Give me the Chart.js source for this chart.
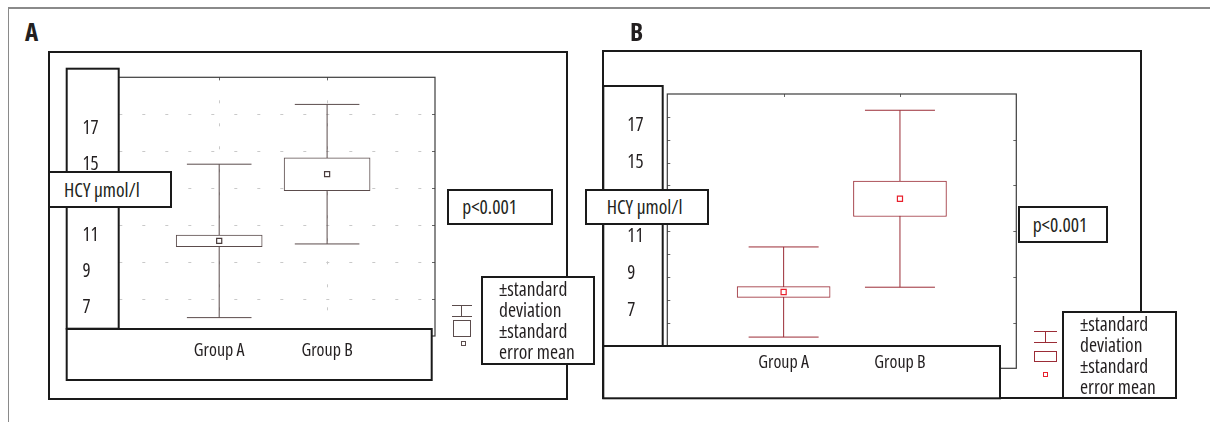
<!DOCTYPE html>
<html><head><meta charset="utf-8">
<script src="https://cdn.jsdelivr.net/npm/chart.js@4.4.1/dist/chart.umd.min.js"></script>
<style>
html,body{margin:0;padding:0;background:#fff;}
body{width:1210px;height:422px;position:relative;overflow:hidden;font-family:"Open Sans",sans-serif;font-stretch:condensed;color:#231f20;}
.abs{position:absolute;box-sizing:border-box;}
.outer{border:2px solid #1a1a1a;z-index:1;}
canvas{position:absolute;z-index:2;}
.box{border:2px solid #1a1a1a;background:#fff;z-index:3;font-size:19.5px;white-space:nowrap;}
.lbl{z-index:3;font-weight:bold;font-size:25px;line-height:25px;}
.g{z-index:3;}
</style>
</head><body>
<div class="abs" style="left:8px;top:7px;width:1202px;height:1.5px;background:#8a8a8a"></div>
<div class="abs" style="left:7.5px;top:7px;width:1.5px;height:415px;background:#8a8a8a"></div>

<div class="abs lbl" style="left:25px;top:19px;">A</div>
<div class="abs lbl" style="left:630px;top:19px;">B</div>

<div class="abs outer" style="left:48.3px;top:51.3px;width:519.4px;height:348.7px"></div>
<div class="abs outer" style="left:602.3px;top:50px;width:539.4px;height:349.3px"></div>

<canvas id="cA" width="540" height="365" style="left:40px;top:44px"></canvas>
<canvas id="cB" width="560" height="365" style="left:595px;top:44px"></canvas>

<!-- panel A overlays -->
<div class="abs box" style="left:48.3px;top:171.3px;width:123.4px;height:37px;line-height:33px;padding-left:13.7px">HCY µmol/l</div>
<div class="abs box" style="left:446.7px;top:189px;width:106.6px;height:36.3px;line-height:32.3px;padding-left:13.6px">p&lt;0.001</div>
<div class="abs box" style="left:481px;top:276px;width:114.3px;height:89px;line-height:21px;padding-left:16px">±standard<br>deviation<br>±standard<br>error mean</div>
<div class="abs g" style="left:451.7px;top:304.5px;width:20px;height:1px;background:#5b4c4c"></div>
<div class="abs g" style="left:461.2px;top:305px;width:1px;height:11.7px;background:#5b4c4c"></div>
<div class="abs g" style="left:451.7px;top:316.2px;width:20px;height:1px;background:#5b4c4c"></div>
<div class="abs g" style="left:452.5px;top:320px;width:18.5px;height:16.7px;border:1px solid #5b4c4c"></div>
<div class="abs g" style="left:461px;top:340.5px;width:5px;height:5px;border:1px solid #5b4c4c"></div>

<!-- panel B overlays -->
<div class="abs box" style="left:585px;top:189px;width:123.7px;height:36.3px;line-height:32.3px;padding-left:19.7px">HCY µmol/l</div>
<div class="abs box" style="left:1018px;top:206.3px;width:89.7px;height:37px;line-height:33px;padding-left:12.7px">p&lt;0.001</div>
<div class="abs box" style="left:1062.3px;top:310.7px;width:114.4px;height:88.6px;line-height:21.2px;padding-left:15.7px">±standard<br>deviation<br>±standard<br>error mean</div>
<div class="abs g" style="left:1034px;top:330.5px;width:22.7px;height:1px;background:#9b2c36"></div>
<div class="abs g" style="left:1044.8px;top:331px;width:1px;height:11.3px;background:#9b2c36"></div>
<div class="abs g" style="left:1034px;top:341.8px;width:22.7px;height:1px;background:#9b2c36"></div>
<div class="abs g" style="left:1034px;top:350.7px;width:22.7px;height:11.3px;border:1px solid #9b2c36"></div>
<div class="abs g" style="left:1043.2px;top:371.8px;width:5px;height:5px;border:1px solid #e8202c"></div>

<script>
// ---- data ----
const categories = ['Group A', 'Group B'];
const tickValues = [7, 9, 11, 15, 17];
const tickLabels = ['7', '9', '11', '15', '17'];

// Panel A: mean, standard deviation, standard error (HCY µmol/l)
const meanA = [10.73, 14.47];
const sdA   = [4.30, 3.91];
const seA   = [0.32, 0.92];

// Panel B
const meanB = [7.99, 13.04];
const sdB   = [2.44, 4.79];
const seB   = [0.29, 0.96];

// condensed face of Open Sans (font-stretch keyword in the canvas font shorthand)
const font = s => ({ family: "'Open Sans'", weight: 'condensed', size: s });

function buildDatasets(mean, sd, se, color, markColor, capR, barW) {
  const ds = [];
  mean.forEach((m, i) => ds.push({
    type: 'line', data: [{x: i + 1, y: m - sd[i]}, {x: i + 1, y: m + sd[i]}],
    borderColor: color, borderWidth: 1, pointRadius: 0, order: 4
  }));
  ds.push({
    type: 'line', showLine: false,
    data: mean.flatMap((m, i) => [{x: i + 1, y: m - sd[i]}, {x: i + 1, y: m + sd[i]}]),
    pointStyle: 'line', pointRadius: capR, pointBorderColor: color, pointBorderWidth: 1, order: 3
  });
  ds.push({
    type: 'bar', data: mean.map((m, i) => ({x: i + 1, y: [m - se[i], m + se[i]]})),
    backgroundColor: '#ffffff', borderColor: color, borderWidth: 1, borderSkipped: false,
    barThickness: barW, order: 2
  });
  ds.push({
    type: 'line', showLine: false, data: mean.map((m, i) => ({x: i + 1, y: m})),
    pointStyle: 'rect', pointRadius: 3.6, pointBackgroundColor: '#ffffff',
    pointBorderColor: markColor, pointBorderWidth: 1.2, order: 1
  });
  return ds;
}

function decorPlugin(p) {
  return {
    id: 'decor',
    beforeDatasetsDraw(chart) {
      const ctx = chart.ctx, a = chart.chartArea, g = chart.scales.g, x = chart.scales.x;
      ctx.save();
      const gvals = g.ticks.map(t => t.value);
      if (p.style === 'grid') {
        ctx.strokeStyle = '#c9c9c9'; ctx.lineWidth = 1; ctx.setLineDash([3, 20]);
        gvals.forEach(v => {
          if (v <= g.min || v >= g.max) return;
          const y = Math.round(g.getPixelForValue(v)) + 0.5;
          ctx.beginPath(); ctx.moveTo(a.left + 8, y); ctx.lineTo(a.right, y); ctx.stroke();
        });
        categories.forEach((c, i) => {
          const xx = Math.round(x.getPixelForValue(i + 1)) + 0.5;
          ctx.beginPath(); ctx.moveTo(xx, a.top); ctx.lineTo(xx, a.bottom); ctx.stroke();
        });
        ctx.setLineDash([]);
        ctx.strokeStyle = '#666';
        gvals.forEach(v => {
          if (v <= g.min || v >= g.max) return;
          const y = Math.round(g.getPixelForValue(v)) + 0.5;
          ctx.beginPath(); ctx.moveTo(a.right - 3, y); ctx.lineTo(a.right, y); ctx.stroke();
        });
      } else {
        ctx.strokeStyle = '#666'; ctx.lineWidth = 1;
        gvals.forEach((v, k) => {
          if (v <= g.min || v >= g.max) return;
          const y = Math.round(g.getPixelForValue(v)) + 0.5;
          ctx.beginPath(); ctx.moveTo(a.left, y); ctx.lineTo(a.left + 3, y); ctx.stroke();
          if (k % 2 === 0) { ctx.beginPath(); ctx.moveTo(a.right - 3, y); ctx.lineTo(a.right, y); ctx.stroke(); }
        });
      }
      ctx.strokeStyle = '#666'; ctx.lineWidth = 1;
      categories.forEach((c, i) => {
        const xx = Math.round(x.getPixelForValue(i + 1)) + 0.5;
        ctx.beginPath(); ctx.moveTo(xx, a.top); ctx.lineTo(xx, a.top + 3); ctx.stroke();
      });
      ctx.strokeStyle = '#3c3c3c'; ctx.lineWidth = 1.2;
      ctx.strokeRect(a.left, a.top, a.right - a.left, a.bottom - a.top);
      ctx.restore();
    },
    afterDatasetsDraw(chart) {
      const ctx = chart.ctx;
      ctx.save();
      p.boxes.forEach(b => {
        const x0 = b[0] - p.ox, y0 = b[1] - p.oy, w = b[2] - b[0], h = b[3] - b[1];
        ctx.fillStyle = '#ffffff'; ctx.fillRect(x0, y0, w, h);
        ctx.strokeStyle = '#1a1a1a'; ctx.lineWidth = 2; ctx.strokeRect(x0, y0, w, h);
      });
      ctx.restore();
    }
  };
}

function makePanel(id, p) {
  new Chart(document.getElementById(id), {
    type: 'line',
    data: { datasets: buildDatasets(p.mean, p.sd, p.se, p.color, p.markColor, p.capR, p.barW) },
    options: {
      responsive: false, animation: false, events: [], devicePixelRatio: 1,
      layout: { padding: { left: p.padLeft, top: p.padTop, right: p.padRight, bottom: 0 } },
      plugins: { legend: { display: false }, tooltip: { enabled: false } },
      scales: {
        x: {
          type: 'linear', position: 'bottom', min: 0, max: 3, offset: false, z: 1,
          afterBuildTicks: s => { s.ticks = categories.map((c, i) => ({ value: i + 1 })); },
          ticks: { z: 1, mirror: p.xMirror, callback: v => categories[v - 1] || '', padding: p.xPad, autoSkip: false,
                   maxRotation: 0, minRotation: 0, color: '#231f20', font: font(18) },
          grid: { display: false, drawTicks: false }, border: { display: false },
          afterFit: s => { s.height = p.xH; }
        },
        y: {
          type: 'linear', position: 'left', min: p.yMin, max: p.yMax, z: 1,
          afterBuildTicks: s => { s.ticks = tickValues.map(v => ({ value: v })); },
          ticks: { z: 1, callback: v => { const k = tickValues.indexOf(v); return k >= 0 ? tickLabels[k] : ''; },
                   crossAlign: 'far', padding: 0, autoSkip: false, color: '#231f20',
                   font: font(19) },
          grid: { display: false, drawTicks: false }, border: { display: false },
          afterFit: s => { s.width = p.yW; }
        },
        g: { type: 'linear', axis: 'y', position: 'right', display: false,
             min: p.gMin, max: p.gMax, ticks: { stepSize: p.gStep } }
      }
    },
    plugins: [decorPlugin(p)]
  });
}

// Panel A (canvas at page 40,44)
makePanel('cA', {
  mean: meanA, sd: sdA, se: seA, color: '#5b4c4c', markColor: '#4a3c3c', capR: 32.3, barW: 86,
  padLeft: 42.5, yW: 28.8, padTop: 29.3, padRight: 145, xH: 73, xPad: 4.2, xMirror: false,
  yMin: 5.4, yMax: 19.9, gMin: 6, gMax: 20, gStep: 2, style: 'grid', ox: 40, oy: 44,
  boxes: [[66.7, 68.7, 118.7, 328.7], [66.7, 329, 431.7, 380]]
});

// Panel B (canvas at page 595,44)
makePanel('cB', {
  mean: meanB, sd: sdB, se: seB, color: '#9b2c36', markColor: '#e8202c', capR: 35, barW: 93,
  padLeft: 32.3, yW: 40, padTop: 50, padRight: 138.7, xH: 40.7, xPad: -5.2, xMirror: true,
  yMin: 3.86, yMax: 18.71, gMin: 0, gMax: 12, gStep: 1, style: 'ticks', ox: 595, oy: 44,
  boxes: [[603.3, 86, 662.7, 346], [603.3, 346, 1000, 398.3]]
});
</script>
</body></html>
